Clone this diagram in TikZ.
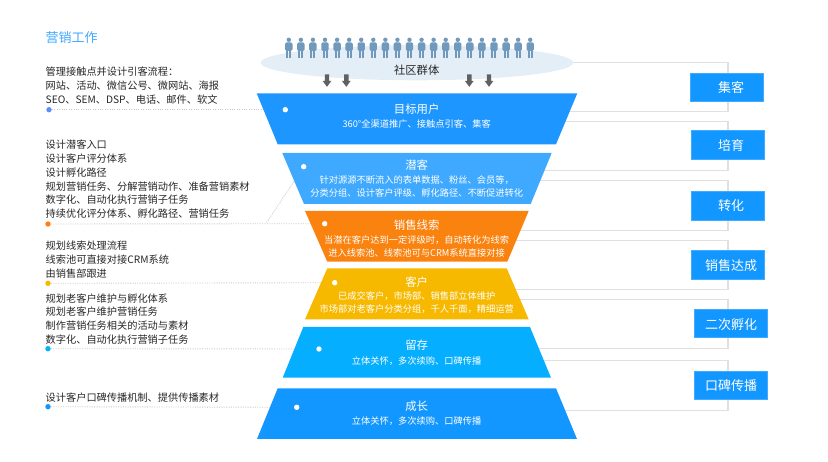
\documentclass[tikz,border=0pt]{standalone}
\usepackage{fontspec}
\setmainfont{Noto Sans CJK SC}
\definecolor{funA}{HTML}{1E96FF}
\definecolor{funB}{HTML}{3FA9FF}
\definecolor{funC}{HTML}{FA820F}
\definecolor{funD}{HTML}{F7B900}
\definecolor{funE}{HTML}{05AEFF}
\definecolor{funF}{HTML}{1296FF}
\definecolor{tagblue}{HTML}{1296FF}
\definecolor{crowd}{HTML}{7099BC}
\definecolor{cloud}{HTML}{E3EEF7}
\definecolor{leadblue}{HTML}{5B8FF9}
\tikzset{
  worktext/.style={anchor=north west,align=left,inner sep=0pt,text=black!85,font=\fontsize{10.2}{13.8}\selectfont},
  funtitle/.style={inner sep=0pt,yshift=-0.8pt,text=white,font=\fontsize{11.4}{13}\selectfont},
  funtext/.style={inner sep=0pt,yshift=-0.8pt,text=white,align=center,font=\fontsize{9.25}{13.4}\selectfont},
  funpt/.style={circle,fill=white,inner sep=0pt,minimum size=5.4pt},
  leadpt/.style={circle,inner sep=0pt,minimum size=5.4pt},
  leader/.style={draw=black!22,line width=0.9pt,dash pattern=on 1pt off 1.4pt},
  bracket/.style={draw=black!12,line width=1.2pt},
  tagbox/.style={fill=tagblue,draw=tagblue!80!white,line width=0.4pt,minimum width=73pt,minimum height=28.4pt,inner sep=0pt},
  taglabel/.style={inner sep=0pt,yshift=-0.4pt,text=white,font=\fontsize{13}{15}\selectfont},
}
\begin{document}
\begin{tikzpicture}[x=1pt,y=-1pt]
\useasboundingbox (0,0) rectangle (828,462);
% left column
\node[anchor=west,inner sep=0pt,text=funA!85!white,font=\fontsize{13}{15}\selectfont] (worktitle) at (45.5,37.3) {营销工作};
\node[worktext] (workA) at (45.5,66.6) {管理接触点并设计引客流程：\\网站、活动、微信公号、微网站、海报\\SEO、SEM、DSP、电话、邮件、软文};
\node[worktext] (workB) at (45.5,139.9) {设计潜客入口\\设计客户评分体系\\设计孵化路径\\规划营销任务、分解营销动作、准备营销素材\\数字化、自动化执行营销子任务\\持续优化评分体系、孵化路径、营销任务};
\node[worktext] (workC) at (45.5,240.9) {规划线索处理流程\\线索池可直接对接CRM系统\\由销售部跟进};
\node[worktext] (workD) at (45.5,293.2) {规划老客户维护与孵化体系\\规划老客户维护营销任务\\制作营销任务相关的活动与素材\\数字化、自动化执行营销子任务};
\node[worktext] (workE) at (45.5,392.7) {设计客户口碑传播机制、提供传播素材};
% points
\coordinate (funptA) at (285.3,109.7);
\coordinate (funptB) at (303.7,166.7);
\coordinate (funptC) at (324.7,223.7);
\coordinate (funptD) at (334.7,282.7);
\coordinate (funptE) at (319,349);
\coordinate (funptF) at (296.7,407.3);
\node[leadpt,fill=leadblue] (leadA) at (49,109.7) {};
\node[leadpt,fill=funC] (leadC) at (48,224) {};
\node[leadpt,fill=funD] (leadD) at (48,283.3) {};
\node[leadpt,fill=funE] (leadE) at (48,348.7) {};
\node[leadpt,fill=funF] (leadF) at (48,406.7) {};
\coordinate (knee) at (266.7,222.5);
% connectors go under the funnel
\draw[leader] (leadA) -- (funptA);
\draw[leader] (leadC) -- (funptC);
\draw[leader] (knee) -- (funptB);
\draw[leader] (leadD) -- (funptD);
\draw[leader] (leadE) -- (funptE);
\draw[leader] (leadF) -- (funptF);
\foreach \n/\ya/\yb in {A/62.7/111.7,B/121.3/170.3,C/180.7/230.3,D/240.3/289.7,E/299.3/348.3,F/360.7/410.3}{
  \coordinate (brk\n) at (728,\ya);
  \coordinate (brkend\n) at (728,\yb);
  \draw[bracket] (420,\ya) -- (brk\n) -- (brkend\n) -- (420,\yb);
}
% crowd
\fill[cloud] (417,62.7) ellipse (156.3 and 17.6);
\node[inner sep=0pt,text=black!85,font=\fontsize{11.3}{13}\selectfont] (crowdlabel) at (416.7,70) {社区群体};
\foreach \i in {0,...,20}{
  \pgfmathsetmacro{\px}{288.8+12.07*\i}
  \fill[crowd] (\px,39.8) circle (2.2);
  \fill[crowd,rounded corners=1.5pt] (\px-3.7,42.4) rectangle (\px+3.7,51);
  \fill[crowd] (\px-2.5,50) rectangle (\px-0.5,57.6);
  \fill[crowd] (\px+0.5,50) rectangle (\px+2.5,57.6);
}
\foreach \px in {327,346.3,469.3,489}{
  \fill[black!62] (\px-2.2,74.3) -- (\px+2.2,74.3) -- (\px+2.2,81) -- (\px+4.3,81) -- (\px,86.8) -- (\px-4.3,81) -- (\px-2.2,81) -- cycle;
}
% funnel
\foreach \tl/\tr/\yt/\bl/\br/\yb/\col in {
  256.7/577.3/93.3/277.7/556/144.3/funA,
  282.3/551.7/153/304/530.7/204/funB,
  305/528.7/211/327.3/507.3/261.7/funC,
  327.3/506.7/268.3/305/528.7/319.3/funD,
  303.3/530/327/282.7/551/377.7/funE,
  277.7/556/388.3/257/577/439/funF}{
  \fill[\col] (\tl,\yt) -- (\tr,\yt) -- (\br,\yb) -- (\bl,\yb) -- cycle;
}
\foreach \n in {A,...,F}{
  \node[funpt] (dot\n) at (funpt\n) {};
}
\node[funtitle] (titleA) at (416.7,108.3) {目标用户};
\node[funtext] (textA) at (416.7,123) {360°全渠道推广、接触点引客、集客};
\node[funtitle] (titleB) at (416.7,164) {潜客};
\node[funtext] (textB) at (416.7,185.4) {针对源源不断流入的表单数据、粉丝、会员等，\\分类分组、设计客户评级、孵化路径、不断促进转化};
\node[funtitle] (titleC) at (416.7,224.3) {销售线索};
\node[funtext] (textC) at (416.7,245.4) {当潜在客户达到一定评级时，自动转化为线索\\进入线索池、线索池可与CRM系统直接对接};
\node[funtitle] (titleD) at (416.7,281) {客户};
\node[funtext] (textD) at (416.7,301.7) {已成交客户，市场部、销售部立体维护\\市场部对老客户分类分组，千人千面，精细运营};
\node[funtitle] (titleE) at (416.7,344.3) {留存};
\node[funtext] (textE) at (416.7,360) {立体关怀，多次续购、口碑传播};
\node[funtitle] (titleF) at (416.7,405) {成长};
\node[funtext] (textF) at (416.7,420.3) {立体关怀，多次续购、口碑传播};
% tags
\node[tagbox] (tagA) at (726.8,87.5) {};
\node[tagbox] (tagB) at (727.6,144.6) {};
\node[tagbox] (tagC) at (727.6,205.8) {};
\node[tagbox] (tagD) at (727.6,264.8) {};
\node[tagbox] (tagE) at (730.5,323.5) {};
\node[tagbox] (tagF) at (730.5,385.3) {};
\node[taglabel] (labelA) at (731,87.5) {集客};
\node[taglabel] (labelB) at (731,145.5) {培育};
\node[taglabel] (labelC) at (731,205.5) {转化};
\node[taglabel] (labelD) at (731,264.8) {销售达成};
\node[taglabel] (labelE) at (731,324) {二次孵化};
\node[taglabel] (labelF) at (731,385.5) {口碑传播};
\end{tikzpicture}
\end{document}
